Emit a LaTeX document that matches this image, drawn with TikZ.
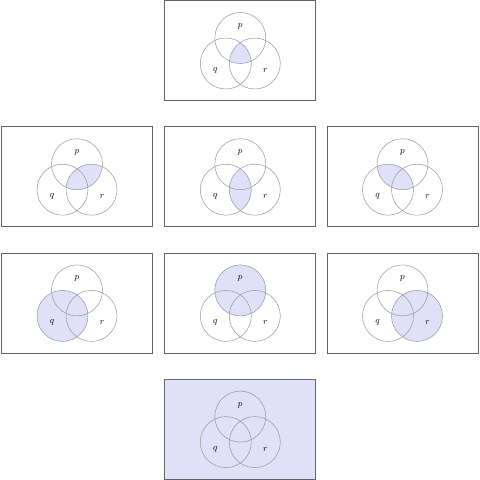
\documentclass[tikz,border=0pt]{standalone}
\tikzset{
  panel/.style={draw={rgb,255:red,100;green,100;blue,100},line width=0.8},
  setline/.style={draw={rgb,255:red,150;green,150;blue,150},line width=0.5},
  shaded/.style={fill={rgb,255:red,224;green,224;blue,248}},
  setlabel/.style={inner sep=0.75pt,font=\small}
}
\def\rad{25.5}
% one Venn panel: #1 centre, #2 name, #3 shaded part
\newcommand{\venn}[3]{%
  \begin{scope}[shift={#1}]
    \coordinate (p) at (0,-12.5);
    \coordinate (q) at (-14.5,13);
    \coordinate (r) at (14.5,13);
    \begin{scope}#3\end{scope}
    \draw [panel] (-75.5,-50) rectangle (75.5,50);
    \draw [setline] (p) circle [radius=\rad];
    \draw [setline] (q) circle [radius=\rad];
    \draw [setline] (r) circle [radius=\rad];
    \node [setlabel] (#2-p) at (0,-24) {$p$};
    \node [setlabel] (#2-q) at (-25,20) {$q$};
    \node [setlabel] (#2-r) at (25,20) {$r$};
  \end{scope}}
\begin{document}
\begin{tikzpicture}[x=1pt,y=1pt,yscale=-1,xscale=1]
\useasboundingbox (0,0) rectangle (480,480);

% top: p and q and r
\venn{(240.3,50.5)}{all}{\clip (p) circle [radius=\rad]; \clip (q) circle [radius=\rad]; \fill [shaded] (r) circle [radius=\rad];}

% second row: p and r, q and r, p and q
\venn{(77,176.7)}{pr}{\clip (p) circle [radius=\rad]; \fill [shaded] (r) circle [radius=\rad];}
\venn{(240.3,176.7)}{qr}{\clip (q) circle [radius=\rad]; \fill [shaded] (r) circle [radius=\rad];}
\venn{(402.5,176.7)}{pq}{\clip (p) circle [radius=\rad]; \fill [shaded] (q) circle [radius=\rad];}

% third row: q, p, r
\venn{(77,302.9)}{q}{\fill [shaded] (q) circle [radius=\rad];}
\venn{(240.3,302.9)}{p}{\fill [shaded] (p) circle [radius=\rad];}
\venn{(402.5,302.9)}{r}{\fill [shaded] (r) circle [radius=\rad];}

% bottom: everything
\venn{(240.3,429.1)}{u}{\fill [shaded] (-75.5,-50) rectangle (75.5,50);}

\end{tikzpicture}
\end{document}
